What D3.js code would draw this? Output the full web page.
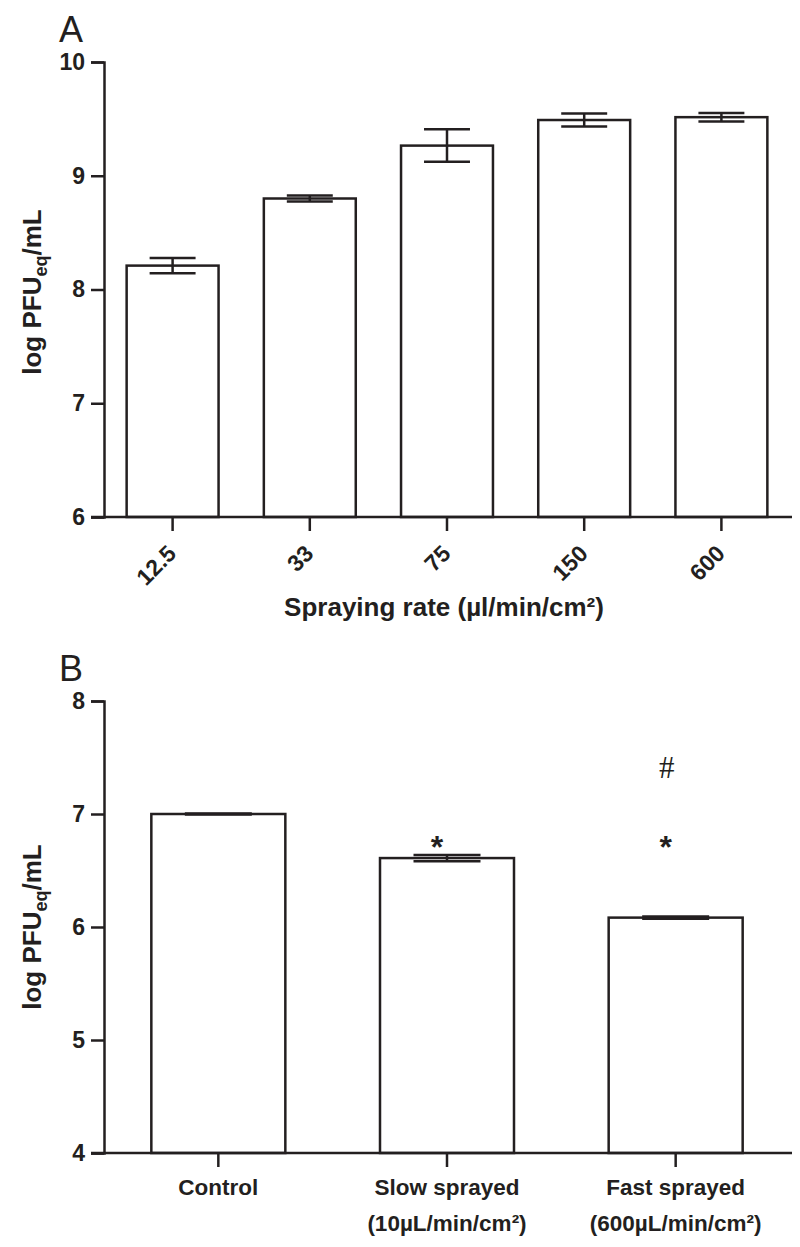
<!DOCTYPE html>
<html>
<head>
<meta charset="utf-8">
<script src="https://cdn.jsdelivr.net/npm/d3@7"></script>
<style>
  html, body { margin: 0; padding: 0; background: #fff; }
  svg { display: block; }
  text { font-family: "Liberation Sans", Arial, Helvetica, sans-serif; fill: #231f20; }
</style>
</head>
<body>
<svg id="chart" width="800" height="1247"></svg>
<script>
// ---- Data: panel A ----
const ratesA = ["12.5", "33", "75", "150", "600"];
const meansA = [8.21, 8.80, 9.265, 9.49, 9.515];
const semA   = [0.068, 0.026, 0.143, 0.058, 0.037];
const ticksA = [6, 7, 8, 9, 10];

// ---- Data: panel B ----
const groupsB    = ["Control", "Slow sprayed", "Fast sprayed"];
const subLabelsB = ["", "(10\u00B5L/min/cm\u00B2)", "(600\u00B5L/min/cm\u00B2)"];
const meansB = [7.0, 6.61, 6.083];
const semB   = [0.004, 0.028, 0.01];
const starsB = ["", "*", "*"];
const hashB  = ["", "", "#"];
const ticksB = [4, 5, 6, 7, 8];

const ink = "#231f20";
const svg = d3.select("#chart");

function yTitle(g, cx, cy) {
  const t = g.append("text")
    .attr("transform", `translate(${cx},${cy}) rotate(-90)`)
    .attr("text-anchor", "middle")
    .attr("font-size", 26).attr("font-weight", "bold");
  t.append("tspan").text("log PFU");
  t.append("tspan").attr("font-size", 18).attr("dy", 6).text("eq");
  t.append("tspan").attr("dy", -6).text("/mL");
}

function styleAxis(ax) {
  ax.select(".domain").attr("stroke", ink).attr("stroke-width", 2.5);
  ax.selectAll(".tick line").attr("stroke", ink).attr("stroke-width", 2.5);
  ax.selectAll(".tick text").attr("fill", ink)
    .attr("font-family", '"Liberation Sans", Arial, sans-serif')
    .attr("font-weight", "bold").attr("font-size", 23);
}

function drawBars(g, x, y, cats, means, sems, base) {
  const bw = x.bandwidth();
  g.selectAll("rect.bar").data(cats).join("rect")
    .attr("class", "bar")
    .attr("x", d => x(d))
    .attr("y", (d, i) => y(means[i]))
    .attr("width", bw)
    .attr("height", (d, i) => y(base) - y(means[i]))
    .attr("fill", "#fff").attr("stroke", ink).attr("stroke-width", 2.5);
  const eg = g.selectAll("g.err").data(cats).join("g").attr("class", "err")
    .attr("stroke", ink).attr("stroke-width", 2.5);
  eg.append("line")
    .attr("x1", d => x(d) + bw / 2).attr("x2", d => x(d) + bw / 2)
    .attr("y1", (d, i) => y(means[i] + sems[i]))
    .attr("y2", (d, i) => y(means[i] - sems[i]));
  eg.append("line")
    .attr("x1", d => x(d) + bw / 4).attr("x2", d => x(d) + 3 * bw / 4)
    .attr("y1", (d, i) => y(means[i] + sems[i]))
    .attr("y2", (d, i) => y(means[i] + sems[i]));
  eg.append("line")
    .attr("x1", d => x(d) + bw / 4).attr("x2", d => x(d) + 3 * bw / 4)
    .attr("y1", (d, i) => y(means[i] - sems[i]))
    .attr("y2", (d, i) => y(means[i] - sems[i]));
}

// ================= Panel A =================
{
  const g = svg.append("g");
  const x = d3.scaleBand().domain(ratesA).range([104, 790])
    .paddingInner(0.33).paddingOuter(0.165);
  const y = d3.scaleLinear().domain([6, 10]).range([517, 62]);

  drawBars(g, x, y, ratesA, meansA, semA, 6);

  const ya = g.append("g").attr("transform", "translate(104,0)")
    .call(d3.axisLeft(y).tickValues(ticksA).tickSize(13).tickPadding(6).tickFormat(d3.format("d")));
  styleAxis(ya);

  const xa = g.append("g").attr("transform", "translate(0,517)")
    .call(d3.axisBottom(x).tickSize(14).tickSizeOuter(0));
  xa.select(".domain").attr("d", "M91,0H792");
  styleAxis(xa);
  xa.selectAll(".tick text")
    .attr("text-anchor", "end")
    .attr("x", 0).attr("y", 0).attr("dy", 0)
    .attr("transform", "translate(5,38) rotate(-45)");

  g.append("text").attr("x", 444).attr("y", 616)
    .attr("text-anchor", "middle").attr("font-size", 26).attr("font-weight", "bold")
    .text("Spraying rate (\u00B5l/min/cm\u00B2)");

  yTitle(g, 41, 292);

  g.append("text").attr("x", 59).attr("y", 42).attr("font-size", 36).text("A");
}

// ================= Panel B =================
{
  const g = svg.append("g");
  const x = d3.scaleBand().domain(groupsB).range([104, 790])
    .paddingInner(0.414).paddingOuter(0.207);
  const y = d3.scaleLinear().domain([4, 8]).range([1153, 701]);

  drawBars(g, x, y, groupsB, meansB, semB, 4);

  const ya = g.append("g").attr("transform", "translate(104,0)")
    .call(d3.axisLeft(y).tickValues(ticksB).tickSize(13).tickPadding(6).tickFormat(d3.format("d")));
  styleAxis(ya);

  const xa = g.append("g").attr("transform", "translate(0,1153)")
    .call(d3.axisBottom(x).tickSize(14).tickSizeOuter(0));
  xa.select(".domain").attr("d", "M91,0H792");
  styleAxis(xa);
  xa.selectAll(".tick text").remove();
  const ticks = xa.selectAll(".tick");
  ticks.append("text")
    .attr("x", 0).attr("y", 42).attr("text-anchor", "middle")
    .attr("font-size", 22.5).attr("font-weight", "bold").attr("fill", ink)
    .text(d => d);
  ticks.append("text")
    .attr("x", 0).attr("y", 78).attr("text-anchor", "middle")
    .attr("font-size", 22.5).attr("font-weight", "bold").attr("fill", ink)
    .text((d, i) => subLabelsB[i]);

  // significance markers
  const bw = x.bandwidth();
  const starLevel = 6.78, hashLevel = 7.42;
  g.selectAll("text.star").data(groupsB).join("text")
    .attr("class", "star")
    .attr("x", d => x(d) + bw / 2 - 10)
    .attr("y", y(starLevel) + 19)
    .attr("text-anchor", "middle").attr("font-size", 32).attr("font-weight", "bold")
    .text((d, i) => starsB[i]);
  g.selectAll("text.hash").data(groupsB).join("text")
    .attr("class", "hash")
    .attr("x", d => x(d) + bw / 2 - 9)
    .attr("y", y(hashLevel) + 11)
    .attr("text-anchor", "middle").attr("font-size", 31)
    .style("font-family", '"Liberation Serif", "Times New Roman", serif')
    .text((d, i) => hashB[i]);

  yTitle(g, 41, 927);

  g.append("text").attr("x", 59).attr("y", 681).attr("font-size", 36).text("B");
}
</script>
</body>
</html>
